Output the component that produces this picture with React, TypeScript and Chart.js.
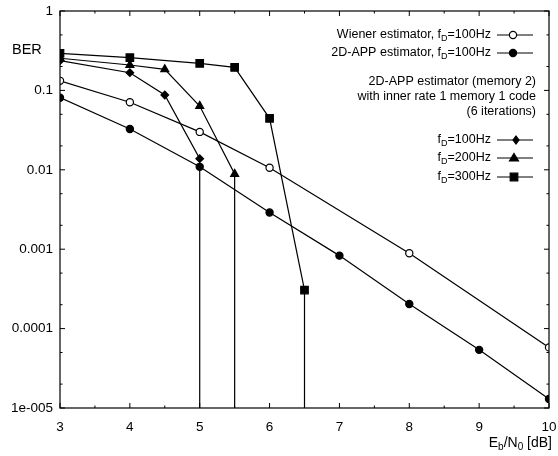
import React, { useEffect, useRef } from "react";
import { Chart, registerables } from "chart.js";

Chart.register(...registerables);

// Eb/N0 [dB] and BER values
const EBN0_WIENER = [3, 4, 5, 6, 8, 10];
const BER_WIENER = [0.132, 0.071, 0.03, 0.0106, 0.00089, 5.8e-5];

const EBN0_APP = [3, 4, 5, 6, 7, 8, 9, 10];
const BER_APP = [0.081, 0.0327, 0.0109, 0.0029, 0.00083, 0.000204, 5.4e-5, 1.3e-5];

const EBN0_IT100 = [3, 4, 4.5, 5];
const BER_IT100 = [0.237, 0.167, 0.0875, 0.0138];

const EBN0_IT200 = [3, 4, 4.5, 5, 5.5];
const BER_IT200 = [0.254, 0.209, 0.184, 0.0636, 0.00885];

const EBN0_IT300 = [3, 4, 5, 5.5, 6, 6.5];
const BER_IT300 = [0.293, 0.258, 0.219, 0.195, 0.0445, 0.000306];

// error-free point: curve drops below the axis
const BER_ZERO = 1e-9;

const X_TICKS = [3, 4, 5, 6, 7, 8, 9, 10];
const Y_TICK_LABELS: Record<string, string> = {
  "1": "1",
  "0.1": "0.1",
  "0.01": "0.01",
  "0.001": "0.001",
  "0.0001": "0.0001",
  "0.00001": "1e-005",
};

const FONT = "'Liberation Sans', Arial, sans-serif";

function pts(xs: number[], ys: number[], drop: boolean) {
  const d = xs.map((x, i) => ({ x, y: ys[i] }));
  if (drop) d.push({ x: xs[xs.length - 1], y: BER_ZERO });
  return d;
}

function radii(n: number, r: number, drop: boolean) {
  const a = new Array(n).fill(r);
  if (drop) a.push(0);
  return a;
}

function drawMarker(ctx: CanvasRenderingContext2D, style: string, x: number, y: number, open: boolean) {
  ctx.save();
  ctx.beginPath();
  if (style === "circle") {
    ctx.arc(x, y, 3.6, 0, Math.PI * 2);
  } else if (style === "rect") {
    ctx.rect(x - 3.8, y - 3.8, 7.6, 7.6);
  } else if (style === "triangle") {
    ctx.moveTo(x, y - 4.5);
    ctx.lineTo(x + 4.5, y + 3);
    ctx.lineTo(x - 4.5, y + 3);
    ctx.closePath();
  } else if (style === "diamond") {
    ctx.moveTo(x, y - 4);
    ctx.lineTo(x + 3, y);
    ctx.lineTo(x, y + 4);
    ctx.lineTo(x - 3, y);
    ctx.closePath();
  }
  ctx.fillStyle = open ? "#fff" : "#000";
  ctx.fill();
  ctx.strokeStyle = "#000";
  ctx.lineWidth = 1.2;
  ctx.stroke();
  ctx.restore();
}

function drawFD(ctx: CanvasRenderingContext2D, prefix: string, suffix: string, right: number, y: number) {
  ctx.save();
  ctx.textBaseline = "middle";
  ctx.textAlign = "left";
  const big = `12.5px ${FONT}`;
  const small = `9px ${FONT}`;
  ctx.font = big;
  const w1 = ctx.measureText(prefix + "f").width;
  const w3 = ctx.measureText(suffix).width;
  ctx.font = small;
  const w2 = ctx.measureText("D").width;
  let x = right - (w1 + w2 + w3);
  ctx.fillStyle = "#000";
  ctx.font = big;
  ctx.fillText(prefix + "f", x, y);
  x += w1;
  ctx.font = small;
  ctx.fillText("D", x, y + 4);
  x += w2;
  ctx.font = big;
  ctx.fillText(suffix, x, y);
  ctx.restore();
}

const decorPlugin = {
  id: "decor",
  afterDraw(chart: any) {
    const ctx: CanvasRenderingContext2D = chart.ctx;
    const { left, right, top, bottom } = chart.chartArea;
    const xs = chart.scales.x;
    const ys = chart.scales.y;
    ctx.save();
    ctx.strokeStyle = "#000";
    ctx.lineWidth = 1.2;
    ctx.strokeRect(left, top, right - left, bottom - top);
    // inward tick marks
    ctx.lineWidth = 1;
    ctx.beginPath();
    for (let v = 3; v <= 10.001; v += 0.5) {
      const px = xs.getPixelForValue(v);
      const len = Number.isInteger(v) ? 5 : 2.5;
      ctx.moveTo(px, bottom);
      ctx.lineTo(px, bottom - len);
      ctx.moveTo(px, top);
      ctx.lineTo(px, top + len);
    }
    for (let e = -5; e <= 0; e++) {
      for (const m of [1, 2, 5]) {
        const v = m * Math.pow(10, e);
        if (v > 1.0001) continue;
        const py = ys.getPixelForValue(v);
        const len = m === 1 ? 5 : 2.5;
        ctx.moveTo(left, py);
        ctx.lineTo(left + len, py);
        ctx.moveTo(right, py);
        ctx.lineTo(right - len, py);
      }
    }
    ctx.stroke();

    // axis titles
    ctx.fillStyle = "#000";
    ctx.font = `14.5px ${FONT}`;
    ctx.textBaseline = "middle";
    ctx.textAlign = "left";
    ctx.fillText("BER", 12, 50);

    // E_b/N_0 [dB]
    {
      const y = 443;
      const big = `14px ${FONT}`;
      const small = `10px ${FONT}`;
      const parts: [string, string, number][] = [
        ["E", big, 0],
        ["b", small, 4],
        ["/N", big, 0],
        ["0", small, 4],
        [" [dB]", big, 0],
      ];
      let total = 0;
      for (const [t, f] of parts) {
        ctx.font = f;
        total += ctx.measureText(t).width;
      }
      let x = 552 - total;
      for (const [t, f, dy] of parts) {
        ctx.font = f;
        ctx.fillText(t, x, y + dy);
        x += ctx.measureText(t).width;
      }
    }

    // legend
    const lineL = 497;
    const lineR = 533;
    const rows: { y: number; style: string; open: boolean; prefix: string; suffix: string; mx: number }[] = [
      { y: 35, style: "circle", open: true, prefix: "Wiener estimator, ", suffix: "=100Hz", mx: 513 },
      { y: 53, style: "circle", open: false, prefix: "2D-APP estimator, ", suffix: "=100Hz", mx: 513 },
      { y: 140, style: "diamond", open: false, prefix: "", suffix: "=100Hz", mx: 516 },
      { y: 158, style: "triangle", open: false, prefix: "", suffix: "=200Hz", mx: 514 },
      { y: 177, style: "rect", open: false, prefix: "", suffix: "=300Hz", mx: 514 },
    ];
    for (const r of rows) {
      drawFD(ctx, r.prefix, r.suffix, 491, r.y);
      ctx.beginPath();
      ctx.lineWidth = 1;
      ctx.moveTo(lineL, r.y);
      ctx.lineTo(lineR, r.y);
      ctx.stroke();
      drawMarker(ctx, r.style, r.mx, r.y, r.open);
    }
    ctx.font = `12.5px ${FONT}`;
    ctx.textAlign = "right";
    ctx.fillText("2D-APP estimator (memory 2)", 536, 82);
    ctx.fillText("with inner rate 1 memory 1 code", 536, 97);
    ctx.fillText("(6 iterations)", 536, 112);
    ctx.restore();
  },
};

export default function App() {
  const ref = useRef<HTMLCanvasElement | null>(null);
  useEffect(() => {
    document.body.style.margin = "0";
    const canvas = ref.current!;
    const common = {
      borderColor: "#000",
      backgroundColor: "#000",
      pointBorderColor: "#000",
      borderWidth: 1.2,
      pointBorderWidth: 1.2,
      tension: 0,
      fill: false,
    };
    const chart = new Chart(canvas, {
      type: "line",
      data: {
        datasets: [
          {
            ...common,
            label: "Wiener estimator",
            data: pts(EBN0_WIENER, BER_WIENER, false),
            pointStyle: "circle",
            pointRadius: 3.6,
            pointBackgroundColor: "#fff",
          },
          {
            ...common,
            label: "2D-APP estimator",
            data: pts(EBN0_APP, BER_APP, false),
            pointStyle: "circle",
            pointRadius: 3.6,
            pointBackgroundColor: "#000",
          },
          {
            ...common,
            label: "fD=100Hz",
            data: pts(EBN0_IT100, BER_IT100, true),
            pointStyle: "rectRot",
            pointRadius: radii(EBN0_IT100.length, 3.8, true),
            pointBackgroundColor: "#000",
          },
          {
            ...common,
            label: "fD=200Hz",
            data: pts(EBN0_IT200, BER_IT200, true),
            pointStyle: "triangle",
            pointRadius: radii(EBN0_IT200.length, 4.6, true),
            pointBackgroundColor: "#000",
          },
          {
            ...common,
            label: "fD=300Hz",
            data: pts(EBN0_IT300, BER_IT300, true),
            pointStyle: "rect",
            pointRadius: radii(EBN0_IT300.length, 5.3, true),
            pointBackgroundColor: "#000",
          },
        ],
      },
      options: {
        responsive: false,
        animation: false,
        devicePixelRatio: 1,
        layout: { padding: { top: 11, right: 9, left: 0, bottom: 0 } },
        plugins: { legend: { display: false }, tooltip: { enabled: false }, title: { display: false } },
        scales: {
          x: {
            type: "linear",
            min: 3,
            max: 10,
            grid: { display: false, drawTicks: false },
            border: { display: false },
            afterBuildTicks: (s: any) => {
              s.ticks = X_TICKS.map((v) => ({ value: v }));
            },
            afterFit: (s: any) => {
              s.height = 48;
              s.paddingLeft = 0;
              s.paddingRight = 0;
            },
            ticks: {
              color: "#000",
              font: { family: FONT, size: 13.5 },
              padding: 11,
              maxRotation: 0,
              autoSkip: false,
              callback: (v: any) => String(v),
            },
          },
          y: {
            type: "logarithmic",
            min: 1e-5,
            max: 1,
            grid: { display: false, drawTicks: false },
            border: { display: false },
            afterBuildTicks: (s: any) => {
              s.ticks = Object.keys(Y_TICK_LABELS).map((k) => ({ value: Number(k) }));
            },
            afterFit: (s: any) => {
              s.width = 60;
              s.paddingTop = 0;
              s.paddingBottom = 0;
            },
            ticks: {
              color: "#000",
              font: { family: FONT, size: 13.5 },
              padding: 7,
              autoSkip: false,
              callback: (v: any) => {
                const key = Object.keys(Y_TICK_LABELS).find((k) => Math.abs(Number(k) - Number(v)) < Number(k) * 1e-6);
                return key ? Y_TICK_LABELS[key] : "";
              },
            },
          },
        },
      },
      plugins: [decorPlugin],
    } as any);
    return () => chart.destroy();
  }, []);
  return (
    <div style={{ width: 558, height: 456, background: "#fff" }}>
      <canvas ref={ref} width={558} height={456} style={{ display: "block" }} />
    </div>
  );
}
